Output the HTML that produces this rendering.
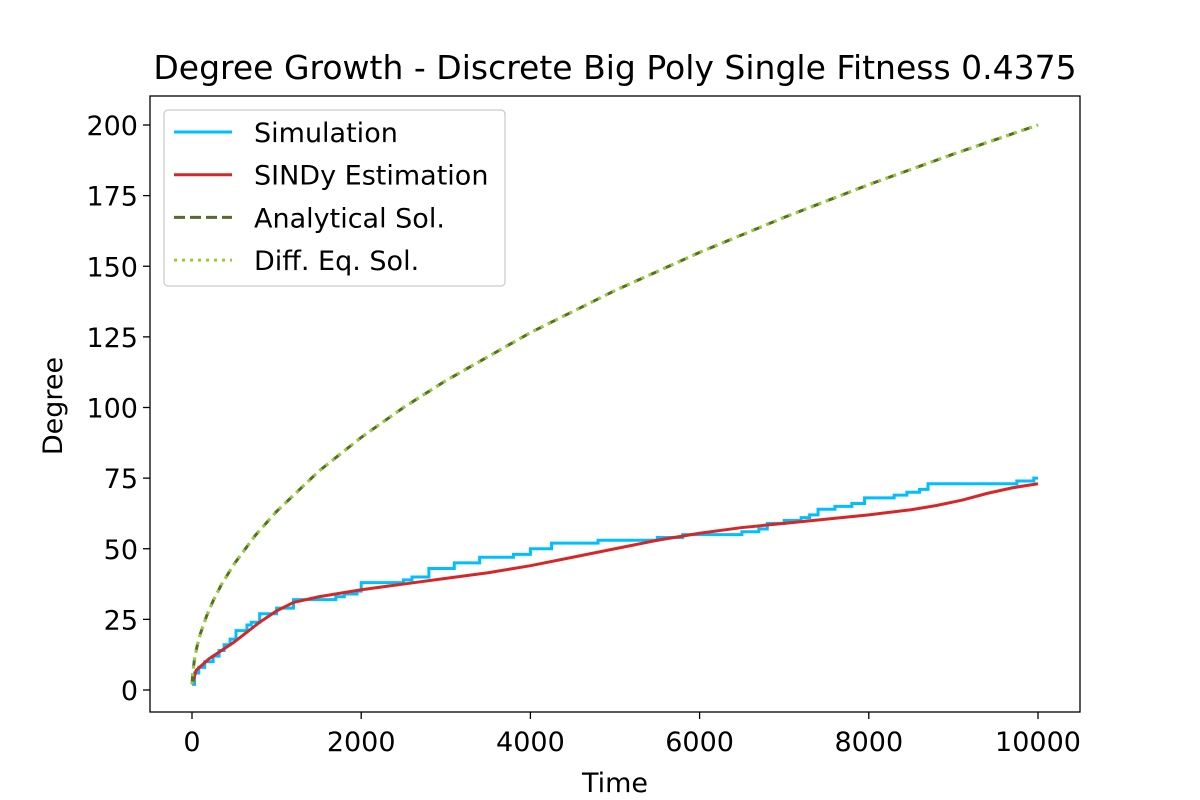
<!DOCTYPE html>
<html><head><meta charset="utf-8"><style>
body{margin:0;background:#fff}
svg{display:block;font-family:"DejaVu Sans","Liberation Sans",sans-serif}
</style></head><body>
<svg id="chart" width="1200" height="800" xmlns="http://www.w3.org/2000/svg">
<rect width="1200" height="800" fill="#fff"/>
<text x="615" y="79" font-size="33" text-anchor="middle">Degree Growth - Discrete Big Poly Single Fitness 0.4375</text>
<g id="plot"></g>
<text x="615" y="792" font-size="27" text-anchor="middle">Time</text>
<text transform="translate(62,406) rotate(-90)" font-size="27" text-anchor="middle">Degree</text>
</svg>
<script>
const xTicks=[0,2000,4000,6000,8000,10000];
const yTicks=[0,25,50,75,100,125,150,175,200];
const simT=[0,30,80,150,250,320,380,450,520,650,700,800,1000,1200,1700,1800,1950,2000,2500,2600,2800,3100,3400,3800,4000,4250,4800,5500,5800,6500,6700,6800,7000,7200,7300,7400,7600,7800,7950,8300,8450,8600,8700,9750,9950,10000];
const simV=[2,6,8,10,12,14,16,18,21,23,24,27,29,32,33,34,35,38,39,40,43,45,47,48,50,52,53,54,55,56,57,59,60,61,62,64,65,66,68,69,70,71,73,74,75,75];
const sinT=[0,50,200,500,800,1000,1200,1500,2000,2500,3000,3500,4000,4500,5000,5500,6000,6500,7000,7500,8000,8500,8800,9100,9400,9700,10000];
const sinV=[2,7,11,17,24,28,31,33,35.5,37.5,39.5,41.5,44,47,50,53,55.5,57.5,59,60.5,62,63.8,65.3,67.2,69.6,71.6,73];
const anaT=[0,10,30,60,100,170,250,350,500,750,1000,1500,2000,2500,3000,4000,5000,6000,7000,8000,9000,10000];
const anaV=[2,6.3,11,15.5,20,26,31.6,37.4,44.7,54.8,63.2,77.5,89.4,100,109.5,126.5,141.4,154.9,167.3,178.9,189.7,200];
const L=150,R=1080,T=96,B=712;
const x=t=>192+t*(1038-192)/10000;
const y=v=>690-v*(690-125)/200;
const NS="http://www.w3.org/2000/svg";
const g=document.getElementById('plot');
function mk(tag,at){const e=document.createElementNS(NS,tag);for(const k in at)e.setAttribute(k,at[k]);g.appendChild(e);return e;}
xTicks.forEach(t=>{
 const l=mk('line',{x1:x(t),x2:x(t),y1:B,y2:B+7,stroke:'#000','stroke-width':1.3});
 
 
 const s=mk('text',{x:x(t),y:B+39,'font-size':27,'text-anchor':'middle'});s.textContent=t;
 
 
});
yTicks.forEach(v=>{
 const l=mk('line',{x1:L-7,x2:L,y1:y(v),y2:y(v),stroke:'#000','stroke-width':1.3});
 
 
 const s=mk('text',{x:L-12,y:y(v)+10,'font-size':27,'text-anchor':'end'});s.textContent=v;
 
 
});
let d='';simT.forEach((t,i)=>{d+=(i?'H'+x(t)+'V':'M'+x(t)+' ')+y(simV[i]);});
const p1=mk('path',{d:d,fill:'none',stroke:'#00bfff','stroke-width':3});


const poly=(T_,V)=>T_.map((t,i)=>x(t)+','+y(V[i])).join(' ');
const p2=mk('polyline',{points:poly(sinT,sinV),fill:'none',stroke:'#d62728','stroke-width':3,'stroke-linejoin':'round'});


const p3=mk('polyline',{points:poly(anaT,anaV),fill:'none',stroke:'#556b2f','stroke-width':3,'stroke-dasharray':'11 5'});


const p4=mk('polyline',{points:poly(anaT,anaV),fill:'none',stroke:'#9acd32','stroke-width':3,'stroke-dasharray':'3 5'});


const fr=mk('rect',{x:L,y:T,width:R-L,height:B-T,fill:'none',stroke:'#000','stroke-width':1.3});


const lg=mk('rect',{x:164,y:110,width:341,height:176,rx:4,fill:'#fff','fill-opacity':0.8,stroke:'#ccc','stroke-width':1.3});


const items=[['Simulation','#00bfff',''],['SINDy Estimation','#d62728',''],['Analytical Sol.','#556b2f','11 5'],['Diff. Eq. Sol.','#9acd32','3 5']];
items.forEach((it,i)=>{
 const yy=132+i*42.7;
 const ln=mk('line',{x1:174,x2:232,y1:yy,y2:yy,stroke:it[1],'stroke-width':3,'stroke-dasharray':it[2]||'none'});
 
 
 const tx=mk('text',{x:254,y:yy+10,'font-size':27});tx.textContent=it[0];
 
 
});
</script>
</body></html>
